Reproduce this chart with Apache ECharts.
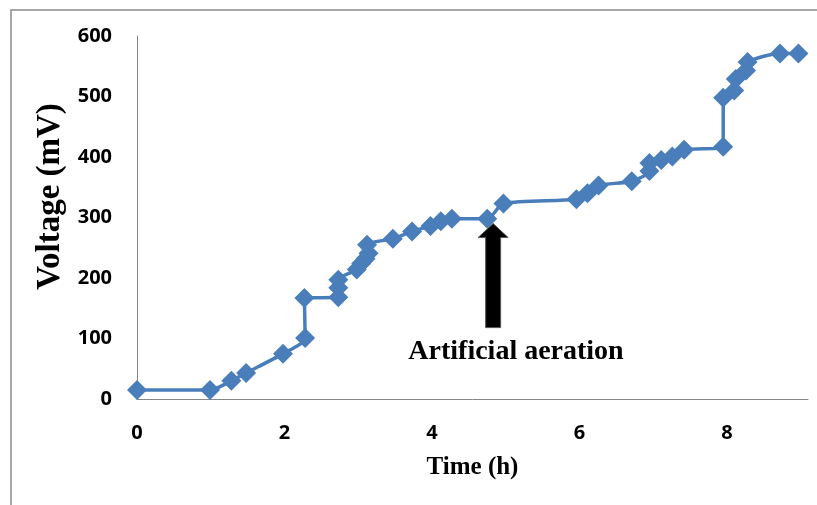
<!DOCTYPE html>
<html>
<head>
<meta charset="utf-8">
<script src="https://cdn.jsdelivr.net/npm/echarts@6/dist/echarts.min.js"></script>
<style>
html,body{margin:0;padding:0;background:#fff;}
#main{width:817px;height:505px;}
</style>
</head>
<body>
<div id="main"></div>
<script>
// Data
var timeH = [0, 0.99, 1.28, 1.48, 1.98, 2.28, 2.27, 2.73, 2.73, 2.73, 2.98, 3.04, 3.1, 3.14, 3.12,
  3.47, 3.73, 3.98, 4.12, 4.27, 4.75, 4.97, 5.96, 6.11, 6.26, 6.71, 6.95, 6.95, 7.11, 7.26, 7.42,
  7.95, 7.95, 8.1, 8.12, 8.26, 8.28, 8.72, 8.97];
var voltage = [15, 15, 30, 43, 75, 101, 167, 168, 184, 197, 214, 224, 232, 241, 255,
  265, 277, 286, 294, 298, 298, 323, 330, 340, 353, 360, 377, 390, 395, 401, 412,
  417, 498, 510, 529, 543, 557, 571, 571];
var xTicks = [0, 2, 4, 6, 8];
var yTicks = [0, 100, 200, 300, 400, 500, 600];
var annotationText = 'Artificial aeration';
var arrowTip = [4.83, 290];
var arrowBase = [4.83, 118];
var annotationPos = [5.14, 78];

var points = timeH.map(function (t, i) { return [t, voltage[i]]; });

var chart = echarts.init(document.getElementById('main'));
var tickFont = {color: '#000', fontFamily: 'Open Sans', fontWeight: 'bold', fontSize: 20};
chart.setOption({
  animation: false,
  grid: {left: 137, top: 36, right: 9, bottom: 106},
  xAxis: {
    type: 'value', min: 0, max: 9.1, interval: 2,
    name: 'Time (h)', nameLocation: 'middle', nameGap: 56,
    nameTextStyle: {fontFamily: 'Liberation Serif', fontWeight: 'bold', fontSize: 25, color: '#000'},
    axisLine: {show: true, lineStyle: {color: '#868686', width: 1}},
    axisTick: {show: false},
    splitLine: {show: false},
    axisLabel: Object.assign({margin: 24, showMaxLabel: false,
      formatter: function (v) { return xTicks.indexOf(v) >= 0 ? String(v) : ''; }}, tickFont)
  },
  yAxis: {
    type: 'value', min: 0, max: 600, interval: 100,
    name: 'Voltage (mV)', nameLocation: 'middle', nameGap: 68,
    nameTextStyle: {fontFamily: 'Liberation Serif', fontWeight: 'bold', fontSize: 33, color: '#000', padding: [0, 0, 0, 42]},
    axisLine: {show: true, lineStyle: {color: '#868686', width: 1}},
    axisTick: {show: false},
    splitLine: {show: false},
    axisLabel: Object.assign({margin: 25,
      formatter: function (v) { return yTicks.indexOf(v) >= 0 ? String(v) : ''; }}, tickFont)
  },
  series: [{
    type: 'line',
    data: points,
    smooth: 0.25,
    symbol: 'diamond',
    symbolSize: 20,
    itemStyle: {color: '#4a7ebb'},
    lineStyle: {color: '#4a7ebb', width: 3.5}
  }]
});

function drawAnnotations() {
  var tip = chart.convertToPixel({gridIndex: 0}, arrowTip);
  var base = chart.convertToPixel({gridIndex: 0}, arrowBase);
  var txt = chart.convertToPixel({gridIndex: 0}, annotationPos);
  var headW = 15, headH = 14, shaftW = 7.5;
  var cx = tip[0];
  chart.setOption({
    graphic: [
      {type: 'rect', shape: {x: 11, y: 10, width: 840, height: 520},
        style: {fill: 'none', stroke: '#8c8c8c', lineWidth: 1.5}, z: -1, silent: true},
      {type: 'polygon', shape: {points: [
        [cx, tip[1]], [cx + headW, tip[1] + headH], [cx + shaftW, tip[1] + headH],
        [cx + shaftW, base[1]], [cx - shaftW, base[1]], [cx - shaftW, tip[1] + headH],
        [cx - headW, tip[1] + headH]]},
        style: {fill: '#000', stroke: '#555', lineWidth: 1}, z: 10},
      {type: 'text', x: txt[0], y: txt[1],
        style: {text: annotationText, fill: '#000', font: 'bold 28px "Liberation Serif"',
          textAlign: 'center', textVerticalAlign: 'middle'}, z: 10}
    ]
  });
}
drawAnnotations();
</script>
</body>
</html>
